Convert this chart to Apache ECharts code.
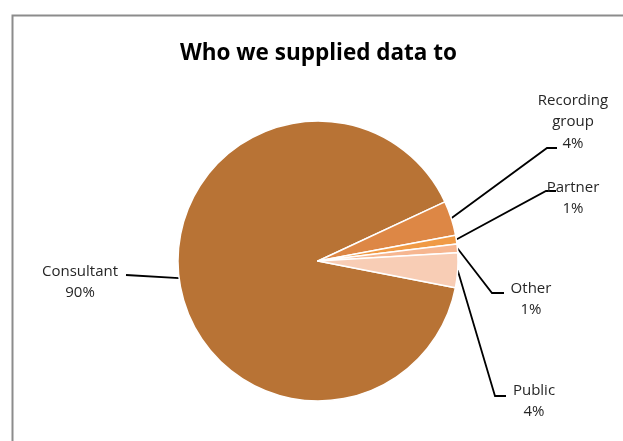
<!DOCTYPE html>
<html><head><meta charset="utf-8">
<script src="https://cdn.jsdelivr.net/npm/echarts@6/dist/echarts.min.js"></script>
<style>html,body{margin:0;padding:0;background:#fff}#c{width:623px;height:441px}</style>
</head><body><div id="c"></div>
<script>
const chartTitle = 'Who we supplied data to';
const categories = ['Consultant', 'Recording group', 'Partner', 'Other', 'Public'];
const values = [90, 4, 1, 1, 4];
const colors = ['#B87335', '#DD8745', '#F09A45', '#F6B690', '#F8CDB5'];

// label placement (layout only)
const labelGuides = {
  'Consultant':      { x: 80,  y: 282, bend: [126, 275], end: [126, 275] },
  'Recording group': { x: 573, y: 122, bend: [547, 148], end: [557, 148] },
  'Partner':         { x: 573, y: 198, bend: [546, 191], end: [556, 191] },
  'Other':           { x: 531, y: 299, bend: [492, 293], end: [504, 293] },
  'Public':          { x: 534, y: 401, bend: [495, 396], end: [506, 396] }
};

const chart = echarts.init(document.getElementById('c'), null, { renderer: 'canvas' });
const data = categories.map((c, i) => ({ name: c, value: values[i], itemStyle: { color: colors[i] } }));

chart.setOption({
  backgroundColor: '#fff',
  animation: false,
  graphic: [{
    type: 'rect', left: 10, top: 13,
    shape: { x: 0, y: 0, width: 700, height: 500 },
    style: { fill: 'none', stroke: '#8C8C8C', lineWidth: 2 },
    silent: true
  }],
  title: {
    text: chartTitle, left: 175, top: 37,
    textStyle: { fontFamily: 'Open Sans', fontWeight: 'bold', fontSize: 22.5, color: '#000' }
  },
  series: [{
    type: 'pie',
    center: [318, 261],
    radius: 140,
    startAngle: 349,
    clockwise: true,
    data: data,
    itemStyle: { borderColor: '#fff', borderWidth: 1.5 },
    label: {
      show: true,
      position: 'outside',
      formatter: p => p.name.split(' ').join('\n') + '\n' + Math.round(p.percent) + '%',
      fontFamily: 'Open Sans', fontSize: 15, color: '#262626', lineHeight: 21.5, align: 'center'
    },
    labelLine: { show: true, lineStyle: { color: '#000', width: 1.8 }, length: 20, length2: 10 },
    labelLayout: function (params) {
      const g = labelGuides[categories[params.dataIndex]];
      const start = params.labelLinePoints[0];
      return {
        x: g.x, y: g.y, align: 'center', verticalAlign: 'middle',
        labelLinePoints: [start, g.bend, g.end]
      };
    }
  }]
});
</script></body></html>
